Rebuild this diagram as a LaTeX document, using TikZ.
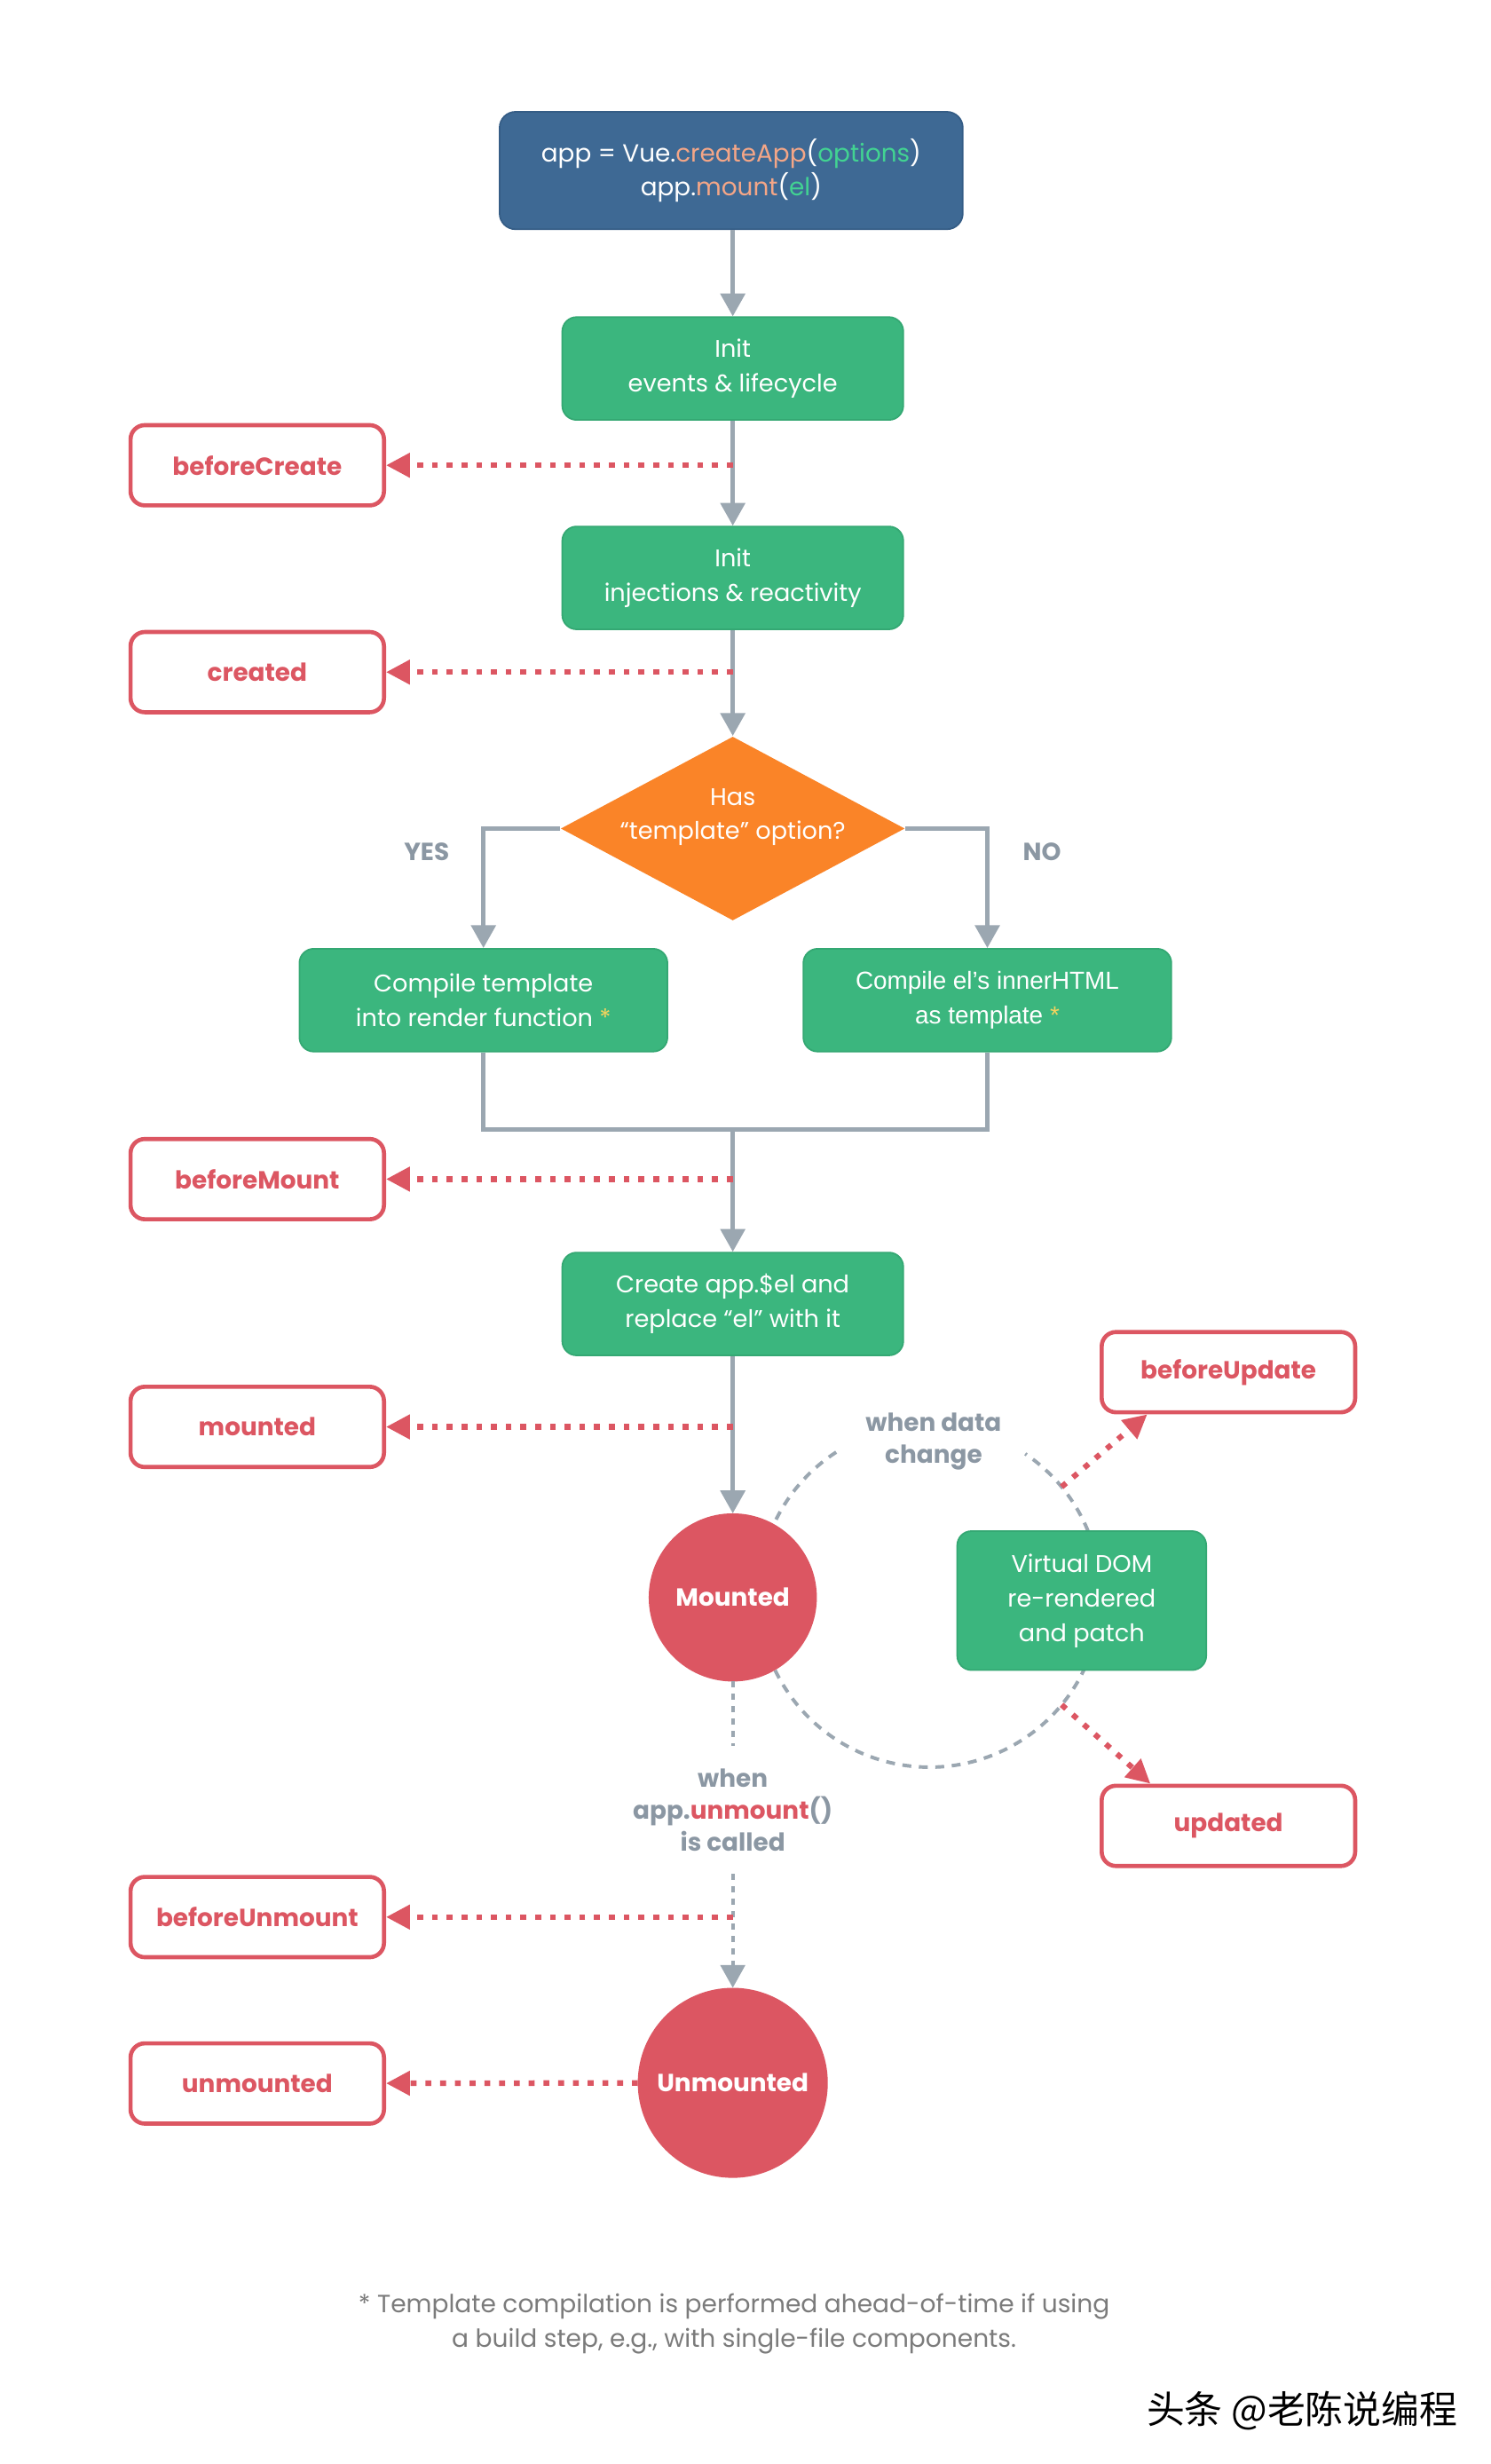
\documentclass[tikz,border=0pt]{standalone}
\usepackage{fontspec}
\setmainfont{Poppins}
\newfontfamily\arialf{Liberation Sans}
\newfontfamily\cjkf{Noto Sans CJK SC}
\usetikzlibrary{shapes.geometric,arrows.meta}
\definecolor{vblue}{HTML}{3E6994}
\definecolor{vblueD}{HTML}{355D86}
\definecolor{vgreen}{HTML}{3BB67E}
\definecolor{vgreenD}{HTML}{34A873}
\definecolor{vorange}{HTML}{FA8428}
\definecolor{vred}{HTML}{DC5662}
\definecolor{vsalmon}{HTML}{F4A687}
\definecolor{vlgreen}{HTML}{42D392}
\definecolor{vyellow}{HTML}{F4D35E}
\definecolor{vgrey}{HTML}{9BA7B1}
\definecolor{vgtext}{HTML}{8B97A3}
\definecolor{vfoot}{HTML}{7B7B7B}
\begin{document}
\begin{tikzpicture}[x=0.5pt,y=-0.5pt,
  topbox/.style={rectangle, rounded corners=5pt, fill=vblue, draw=vblueD, line width=0.5pt, text=white, align=center, inner sep=0pt, minimum width=146pt, minimum height=37pt, font=\fontsize{7.8}{10.75}\selectfont},
  gbox/.style={rectangle, rounded corners=4.5pt, fill=vgreen, draw=vgreenD, line width=0.5pt, text=white, align=center, inner sep=0pt, minimum width=107.5pt, minimum height=32.4pt, font=\fontsize{7.6}{10.9}\selectfont},
  hook/.style={rectangle, rounded corners=4.5pt, fill=white, draw=vred, line width=1.3pt, text=vred, inner sep=0pt, minimum width=79.9pt, minimum height=25.3pt, font=\bfseries\fontsize{7.8}{10}\selectfont},
  lcirc/.style={circle, fill=vred, draw=vred, line width=0.5pt, text=white, inner sep=0pt, font=\bfseries\fontsize{7.8}{10}\selectfont},
  gline/.style={draw=vgrey, line width=1.3pt},
  garrow/.style={draw=vgrey, line width=1.3pt, -{Triangle[length=7.2pt,width=7.7pt]}},
  rarrow/.style={draw=vred, line width=1.75pt, dash pattern=on 1.85pt off 2.8pt, -{Triangle[length=7.5pt,width=7.4pt]}},
  gdash/.style={draw=vgrey, line width=1.1pt, dash pattern=on 2.8pt off 2.4pt},
  gdot/.style={draw=vgrey, line width=1.1pt, dash pattern=on 1.85pt off 2.05pt},
  lbl/.style={text=vgtext, font=\bfseries\fontsize{7.8}{10}\selectfont, align=center, inner sep=0pt}
]
\fill[white] (0,0) rectangle (940,1553.3);
\useasboundingbox (0,0) rectangle (940,1553.3);

% top
\node[topbox] (app) at (461,107.5) {app = Vue.\textcolor{vsalmon}{createApp}(\textcolor{vlgreen}{options})\\app.\textcolor{vsalmon}{mount}(\textcolor{vlgreen}{el})};
\node[gbox] (ie) at (462,232.3) {Init\\events \& lifecycle};
\node[gbox] (ii) at (462,364.3) {Init\\injections \& reactivity};
\node[hook] (bc) at (162.2,293.3) {beforeCreate};
\node[hook] (cr) at (162.2,423.7) {created};

\draw[garrow] (app.south -| ie.north) -- (ie.north);
\draw[garrow] (ie) -- (ii);
\draw[rarrow] (bc -| ie) -- (bc.east);

% decision
\node[diamond, fill=vorange, inner sep=0pt, minimum width=108.5pt, minimum height=58pt] (has) at (462,522.3) {};
\node[text=white, align=center, inner sep=0pt, font=\fontsize{7.6}{10.75}\selectfont] (hast) at (462,515) {Has\\“template” option?};
\draw[garrow] (ii) -- (has.north);
\draw[rarrow] (cr -| ii) -- (cr.east);

\node[lbl] (yes) at (269,537) {YES};
\node[lbl] (no) at (657,537) {NO};

\node[gbox, minimum width=116pt] (ct) at (304.8,630.5) {Compile template\\into render function \textcolor{vyellow}{*}};
\node[gbox, minimum width=116pt, font=\arialf\fontsize{7.8}{10.75}\selectfont] (ce) at (622.5,630.5) {Compile el’s innerHTML\\as template \textcolor{vyellow}{*}};
\draw[garrow] (has.west) -| (ct.north);
\draw[garrow] (has.east) -| (ce.north);

\coordinate (join) at (462,712);
\draw[gline] (ct.south) |- (join) -| (ce.south);

\node[gbox] (cae) at (462,822) {Create app.\$el and\\replace “el” with it};
\draw[garrow] (join) -- (cae.north);
\node[hook] (bm) at (162.2,743.3) {beforeMount};
\node[hook] (md) at (162.2,899.5) {mounted};
\draw[rarrow] (bm -| cae) -- (bm.east);

% update cycle
\coordinate (cyc) at (586,1006);
\draw[gdash] (cyc) ++(237:108) arc[start angle=237, end angle=-56, radius=108];

\node[lcirc, minimum size=52.5pt] (mtd) at (462,1007) {Mounted};
\draw[garrow] (cae) -- (mtd);
\draw[rarrow] (md -| cae) -- (md.east);

\node[gbox, minimum width=78.5pt, minimum height=43.8pt] (vd) at (682,1009) {Virtual DOM\\re-rendered\\and patch};
\node[lbl] (wdc) at (588.6,908.5) {when data\\change};
\node[hook] (bu) at (774.5,865) {beforeUpdate};
\node[hook] (ud) at (774.5,1151) {updated};
\draw[rarrow] ([shift={(-39.5:108)}]cyc) -- ([xshift=15pt]bu.south west);
\draw[rarrow] ([shift={(39.5:108)}]cyc) -- ([xshift=16pt]ud.north west);

% unmount
\node[lbl, minimum height=40pt] (wum) at (462,1141) {when\\app.\textcolor{vred}{unmount}()\\is called};
\draw[gdot] (mtd) -- (wum);
\node[lcirc, minimum size=59.4pt] (umd) at (462,1313) {Unmounted};
\draw[gdot, -{Triangle[length=7.2pt,width=7.7pt]}] (wum) -- (umd);
\node[hook] (bum) at (162.2,1208.5) {beforeUnmount};
\node[hook] (um) at (162.2,1313.4) {unmounted};
\draw[rarrow] (bum -| wum) -- (bum.east);
\draw[rarrow] (umd) -- (um);

% footnote
\node[text=vfoot, align=center, inner sep=0pt, font=\fontsize{7.85}{11}\selectfont] (fn) at (462.8,1465) {* Template compilation is performed ahead-of-time if using\\a build step, e.g., with single-file components.};
\node[text=black, inner sep=0pt, font=\cjkf\fontsize{12}{12}\selectfont] (wm) at (821,1520) {头条 @老陈说编程};
\end{tikzpicture}
\end{document}
